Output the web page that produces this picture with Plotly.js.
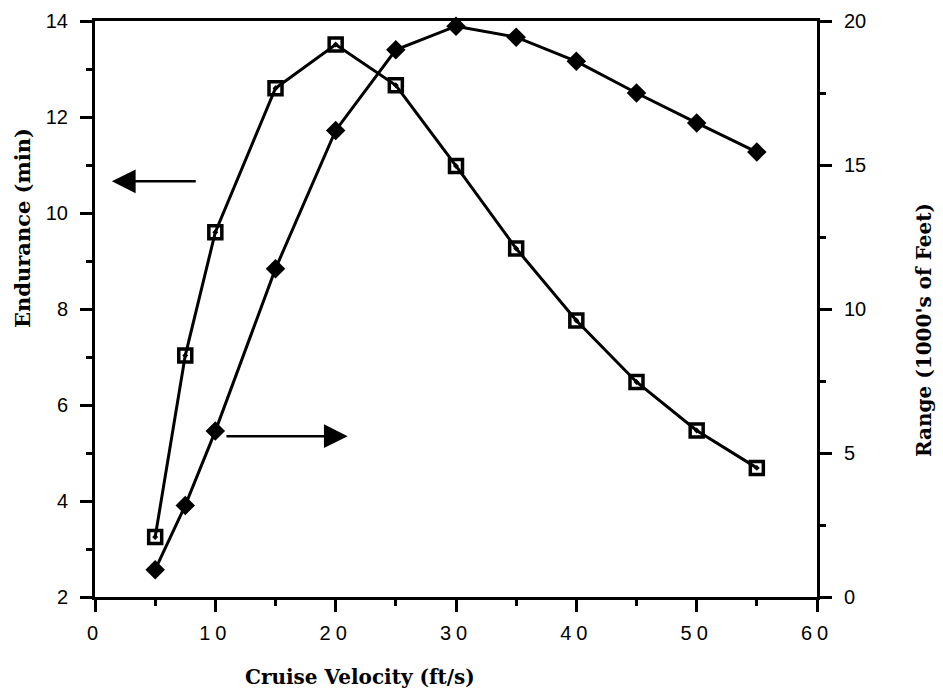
<!DOCTYPE html>
<html>
<head>
<meta charset="utf-8">
<script src="https://cdn.plot.ly/plotly-3.0.1.min.js"></script>
<style>
html,body{margin:0;padding:0;background:#fff;}
#chart{width:943px;height:696px;}
.xtick text{letter-spacing:5px;}
</style>
</head>
<body>
<div id="chart"></div>
<script>
// Cruise velocity (ft/s)
const velocity = [5, 7.5, 10, 15, 20, 25, 30, 35, 40, 45, 50, 55];
// Endurance (min) - open squares, left axis
const endurance = [3.25, 7.03, 9.6, 12.6, 13.51, 12.66, 10.98, 9.26, 7.76, 6.48, 5.47, 4.69];
// Range (1000's of feet) - filled diamonds, right axis
const rangeFt = [0.95, 3.18, 5.76, 11.4, 16.2, 19.0, 19.82, 19.44, 18.6, 17.5, 16.46, 15.45];

const xTicks = [0, 10, 20, 30, 40, 50, 60];
const yTicks = [2, 4, 6, 8, 10, 12, 14];
const y2Ticks = [0, 5, 10, 15, 20];

const xTitle = 'Cruise Velocity (ft/s)';
const yTitle = 'Endurance (min)';
const y2Title = "Range (1000's of Feet)";

const tickFont = {family: 'Liberation Sans, Arial, sans-serif', size: 20, color: '#000'};
const serif = 'DejaVu Serif, Liberation Serif, serif';

const traces = [
  {
    x: velocity, y: endurance, type: 'scatter', mode: 'lines+markers',
    line: {color: '#000', width: 3},
    marker: {symbol: 'square-open-dot', size: 13, color: '#000', line: {color: '#000', width: 3.5}},
    yaxis: 'y', showlegend: false, cliponaxis: false
  },
  {
    x: velocity, y: rangeFt, type: 'scatter', mode: 'lines+markers',
    line: {color: '#000', width: 3},
    marker: {symbol: 'diamond', size: 15, color: '#000'},
    yaxis: 'y2', showlegend: false, cliponaxis: false
  }
];

const layout = {
  width: 943, height: 696,
  margin: {l: 95, r: 126, t: 21, b: 99},
  paper_bgcolor: '#fff', plot_bgcolor: '#fff',
  xaxis: {
    range: [0, 60], tickvals: xTicks, ticktext: xTicks.map(String),
    showgrid: false, zeroline: false,
    showline: true, linecolor: '#000', linewidth: 3, mirror: true,
    ticks: 'outside', ticklen: 12, tickwidth: 3, tickcolor: '#000',
    minor: {dtick: 5, ticks: 'outside', ticklen: 6, tickwidth: 3, tickcolor: '#000', showgrid: false},
    tickfont: tickFont, ticklabelstandoff: 4
  },
  yaxis: {
    range: [2, 14], tickvals: yTicks, ticktext: yTicks.map(String),
    showgrid: false, zeroline: false,
    showline: true, linecolor: '#000', linewidth: 3,
    ticks: 'outside', ticklen: 12, tickwidth: 3, tickcolor: '#000',
    minor: {dtick: 1, ticks: 'outside', ticklen: 6, tickwidth: 3, tickcolor: '#000', showgrid: false},
    tickfont: tickFont, ticklabelstandoff: 8
  },
  yaxis2: {
    range: [0, 20], tickvals: y2Ticks, ticktext: y2Ticks.map(String),
    overlaying: 'y', side: 'right', anchor: 'x',
    showgrid: false, zeroline: false,
    showline: true, linecolor: '#000', linewidth: 3,
    ticks: 'outside', ticklen: 12, tickwidth: 3, tickcolor: '#000',
    minor: {dtick: 2.5, ticks: 'outside', ticklen: 6, tickwidth: 3, tickcolor: '#000', showgrid: false},
    tickfont: tickFont, ticklabelstandoff: 8
  },
  annotations: [
    {x: 1.4, y: 10.66, ax: 8.5, ay: 10.66, xref: 'x', yref: 'y', axref: 'x', ayref: 'y',
     showarrow: true, arrowhead: 2, arrowsize: 1.9, arrowwidth: 2.5, arrowcolor: '#000', text: ''},
    {x: 21.0, y: 5.35, ax: 10.8, ay: 5.35, xref: 'x', yref: 'y', axref: 'x', ayref: 'y',
     showarrow: true, arrowhead: 2, arrowsize: 1.9, arrowwidth: 2.5, arrowcolor: '#000', text: ''},
    {text: '<b>' + xTitle + '</b>', xref: 'paper', yref: 'paper', x: (360 - 95) / 722, y: -(677 - 597) / 576,
     xanchor: 'center', yanchor: 'middle', showarrow: false,
     font: {family: serif, size: 20, color: '#000'}},
    {text: '<b>' + yTitle + '</b>', xref: 'paper', yref: 'paper', x: -(95 - 22) / 722, y: (597 - 228) / 576,
     xanchor: 'center', yanchor: 'middle', showarrow: false, textangle: -90,
     font: {family: serif, size: 21, color: '#000'}},
    {text: '<b>' + y2Title + '</b>', xref: 'paper', yref: 'paper', x: 1 + (924 - 817) / 722, y: (597 - 330) / 576,
     xanchor: 'center', yanchor: 'middle', showarrow: false, textangle: -90,
     font: {family: serif, size: 20, color: '#000'}}
  ]
};

Plotly.newPlot('chart', traces, layout, {displayModeBar: false, staticPlot: true});
</script>
</body>
</html>
